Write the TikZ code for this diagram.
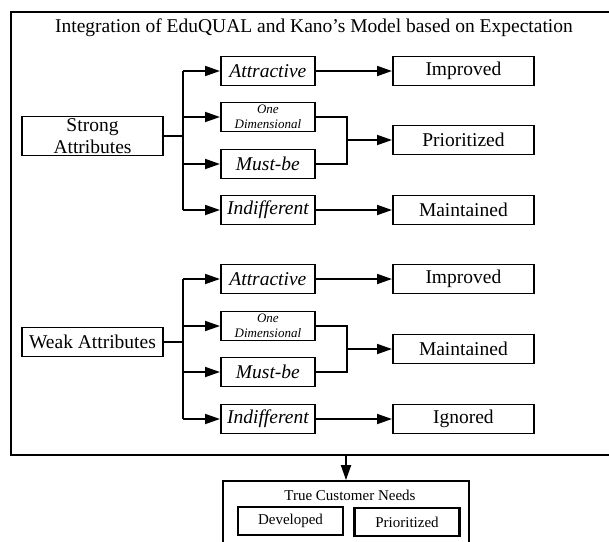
\documentclass[tikz,border=0pt]{standalone}
\usepackage{fontspec}
\setmainfont{Liberation Serif}
\usetikzlibrary{arrows.meta}

\begin{document}
\begin{tikzpicture}[x=1pt,y=-1pt,line width=1.8pt,
  box/.style={draw,minimum width=141pt,minimum height=29pt,inner sep=2pt,font=\fontsize{19.5}{22}\selectfont},
  kano/.style={draw,anchor=west,minimum width=94pt,minimum height=29pt,inner sep=2pt,font=\fontsize{19.5}{22}\selectfont\itshape},
  small/.style={font=\fontsize{13}{15}\selectfont\itshape,inner sep=1pt,align=center},
  need/.style={draw,line width=2.4pt,minimum width=105pt,minimum height=28pt,inner sep=2pt,font=\fontsize{15}{17}\selectfont},
  arr/.style={-{Triangle[length=15pt,width=10pt]}}]
  \useasboundingbox (0,0) rectangle (609,541);
  \node[draw,minimum width=601pt,minimum height=443pt] (frame) at (311.5,233.5) {};
  \node[font=\fontsize{19.5}{22}\selectfont] (title) at (314,28) {Integration of EduQUAL and Kano's Model based on Expectation};

  % strong attributes
  \node[box,align=center] (strong) at (92.5,136) {Strong\\Attributes};
  \coordinate (sj) at (183,136);
  \node[kano] (sa) at (220,71) {Attractive};
  \node[kano,small] (so) at (220,117) {One\\Dimensional};
  \node[kano] (sm) at (220,164) {Must-be};
  \node[kano] (si) at (220,210) {Indifferent};
  \node[box,anchor=west] (simp) at (392,71) {Improved};
  \node[box,anchor=west] (sprio) at (392,140) {Prioritized};
  \node[box,anchor=west] (smain) at (392,210) {Maintained};
  \coordinate (sb) at (347,140);

  \draw (strong.east) -- (sj);
  \draw (sj |- sa.west) -- (sj |- si.west);
  \foreach \k in {sa,so,sm,si}
    \draw[arr] (sj |- \k.west) -- (\k.west);
  \draw[arr] (sa) -- (simp);
  \draw (so.east) -- (so.east -| sb) -- (sm.east -| sb) -- (sm.east);
  \draw[arr] (sb) -- (sprio);
  \draw[arr] (si) -- (smain);

  % weak attributes
  \node[box] (weak) at (92.5,342) {Weak Attributes};
  \coordinate (wj) at (183,342);
  \node[kano] (wa) at (220,279) {Attractive};
  \node[kano,small] (wo) at (220,326) {One\\Dimensional};
  \node[kano] (wm) at (220,372) {Must-be};
  \node[kano] (wi) at (220,419) {Indifferent};
  \node[box,anchor=west] (wimp) at (392,279) {Improved};
  \node[box,anchor=west] (wmain) at (392,349) {Maintained};
  \node[box,anchor=west] (wign) at (392,419) {Ignored};
  \coordinate (wb) at (347,349);

  \draw (weak.east) -- (wj);
  \draw (wj |- wa.west) -- (wj |- wi.west);
  \foreach \k in {wa,wo,wm,wi}
    \draw[arr] (wj |- \k.west) -- (\k.west);
  \draw[arr] (wa) -- (wimp);
  \draw (wo.east) -- (wo.east -| wb) -- (wm.east -| wb) -- (wm.east);
  \draw[arr] (wb) -- (wmain);
  \draw[arr] (wi) -- (wign);

  % true customer needs
  \node[draw,minimum width=246pt,minimum height=66pt] (needs) at (346,514) {};
  \node[font=\fontsize{15}{17}\selectfont] (needstitle) at (350,495) {True Customer Needs};
  \node[need] (dev) at (290.5,521) {Developed};
  \node[need] (prio) at (407,522) {Prioritized};
  \draw[arr] (frame.south -| needs.north) -- (needs.north);
\end{tikzpicture}
\end{document}
